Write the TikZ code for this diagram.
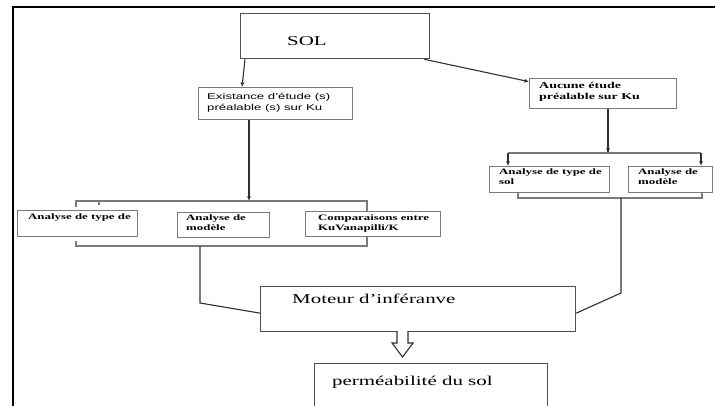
\documentclass[tikz,border=0pt]{standalone}
\usepackage{fontspec}
\setmainfont{Liberation Serif}
\setsansfont{Liberation Sans}
\usepackage{graphicx}
\usetikzlibrary{arrows.meta,calc}
\newcommand\hs[1]{\scalebox{1.55}[1]{\begin{tabular}[t]{@{}l@{}}#1\end{tabular}}}
\definecolor{bigline}{HTML}{505050}
\definecolor{smallline}{HTML}{7A7A7A}
\definecolor{conn}{HTML}{303030}
\begin{document}
\begin{tikzpicture}[x=1pt,y=-1pt,
  bigbox/.style={draw=bigline, line width=1.3pt, fill=white, inner sep=0pt, anchor=north west},
  smallbox/.style={draw=smallline, line width=1.3pt, fill=white, inner sep=0pt, anchor=north west},
  txt/.style={inner sep=0pt, anchor=base west},
  bigfont/.style={font=\fontsize{13.5}{16}\selectfont},
  sansfont/.style={font=\sffamily\fontsize{8.5}{11}\selectfont},
  boldfont/.style={font=\bfseries\fontsize{8.3}{10}\selectfont},
  aucfont/.style={font=\bfseries\fontsize{9}{11}\selectfont},
  conline/.style={draw=conn, line width=1.1pt},
  arr/.style={conline, -{Latex[length=4.5pt,width=4pt]}},
  brk/.style={draw=smallline, line width=1.3pt}
]
\useasboundingbox (0,0) rectangle (715,406);
% frame
\draw[line width=2pt, black] (13,406) -- (13,7) -- (715,7);

% SOL
\node[bigbox, minimum width=189pt, minimum height=45pt] (sol) at (240,13) {};
\node[txt, bigfont] (solt) at (287,45.5) {\hs{SOL}};

% Existance
\node[smallbox, minimum width=154pt, minimum height=32pt] (exi) at (198,87) {};
\node[txt, sansfont] (exit) at (207,100) {\hs{Existance d'étude (s)\\préalable (s) sur Ku}};

% Aucune
\node[smallbox, minimum width=147pt, minimum height=30pt] (auc) at (529,78) {};
\node[txt, aucfont] (auct) at (539,89) {\hs{Aucune étude\\préalable sur Ku}};

\draw[arr] ($(sol.south west)+(5,0)$) -- ($(exi.north west)+(44,0)$);
\draw[arr] ($(sol.south east)+(-6,0)$) -- ($(auc.west)+(0,-12)$);

% left bracket
\coordinate (lstem) at (249,201);
\draw[brk] (76,207) -- (76,201) -- (367,201) -- (367,246) -- (76,246) -- (76,241);
\draw[brk] (99,201) -- (99,205);
\draw[arr] ($(exi.south west)+(51,0)$) -- (lstem);

% left boxes
\node[smallbox, minimum width=120pt, minimum height=26pt] (la1) at (17,210) {};
\node[txt, boldfont] (la1t) at (28,220) {\hs{Analyse de type de}};
\node[smallbox, minimum width=92pt, minimum height=25pt] (la2) at (177,212) {};
\node[txt, boldfont] (la2t) at (186,221) {\hs{Analyse de\\modèle}};
\node[smallbox, minimum width=135pt, minimum height=25pt] (la3) at (305,211) {};
\node[txt, boldfont] (la3t) at (318,221) {\hs{Comparaisons entre\\KuVanapilli/K}};

% right bracket
\coordinate (rstem) at (608,153);
\coordinate (rl) at (508,153);
\coordinate (rr) at (701,153);
\draw[conline] ($(auc.south west)+(79,0)$) -- (rstem);
\draw[brk] (rl) -- (rr);
\draw[arr] ($(auc.south west)+(79,0)$) -- (rstem);

% right boxes
\node[smallbox, minimum width=120pt, minimum height=26pt] (ra1) at (489,166) {};
\node[txt, boldfont] (ra1t) at (499,175) {\hs{Analyse de type de\\sol}};
\node[smallbox, minimum width=84pt, minimum height=26pt] (ra2) at (628,166) {};
\node[txt, boldfont] (ra2t) at (638,175) {\hs{Analyse de\\modèle}};
\draw[arr] (rl) -- (ra1.north west -| rl);
\draw[arr] (rr) -- (ra2.north west -| rr);
\draw[brk] (518,193) -- (518,198) -- (702,198) -- (702,193);

% Moteur
\node[bigbox, minimum width=315pt, minimum height=45pt] (mot) at (260,286) {};
\node[txt, bigfont] (mott) at (292,303) {\hs{Moteur d'inféranve}};

\coordinate (lb) at (200,246);
\coordinate (lk) at (200,303);
\coordinate (rb) at (621,198);
\coordinate (rk) at (621,293);
\draw[conline] (lb) -- (lk) -- ($(mot.west)+(0,4)$);
\draw[conline] (rb) -- (rk) -- ($(mot.east)+(0,4)$);

% block arrow
\coordinate (ba) at (397,331);
\draw[draw=conn, line width=1.1pt, fill=white] (ba) -- (397,343) -- (392,343) -- (402.5,357) -- (413,343) -- (408,343) -- (408,331);

% permeabilite
\node[bigbox, minimum width=233pt, minimum height=46pt] (per) at (314,363) {};
\node[txt, bigfont] (pert) at (332,385) {\hs{perméabilité du sol}};
\end{tikzpicture}
\end{document}
